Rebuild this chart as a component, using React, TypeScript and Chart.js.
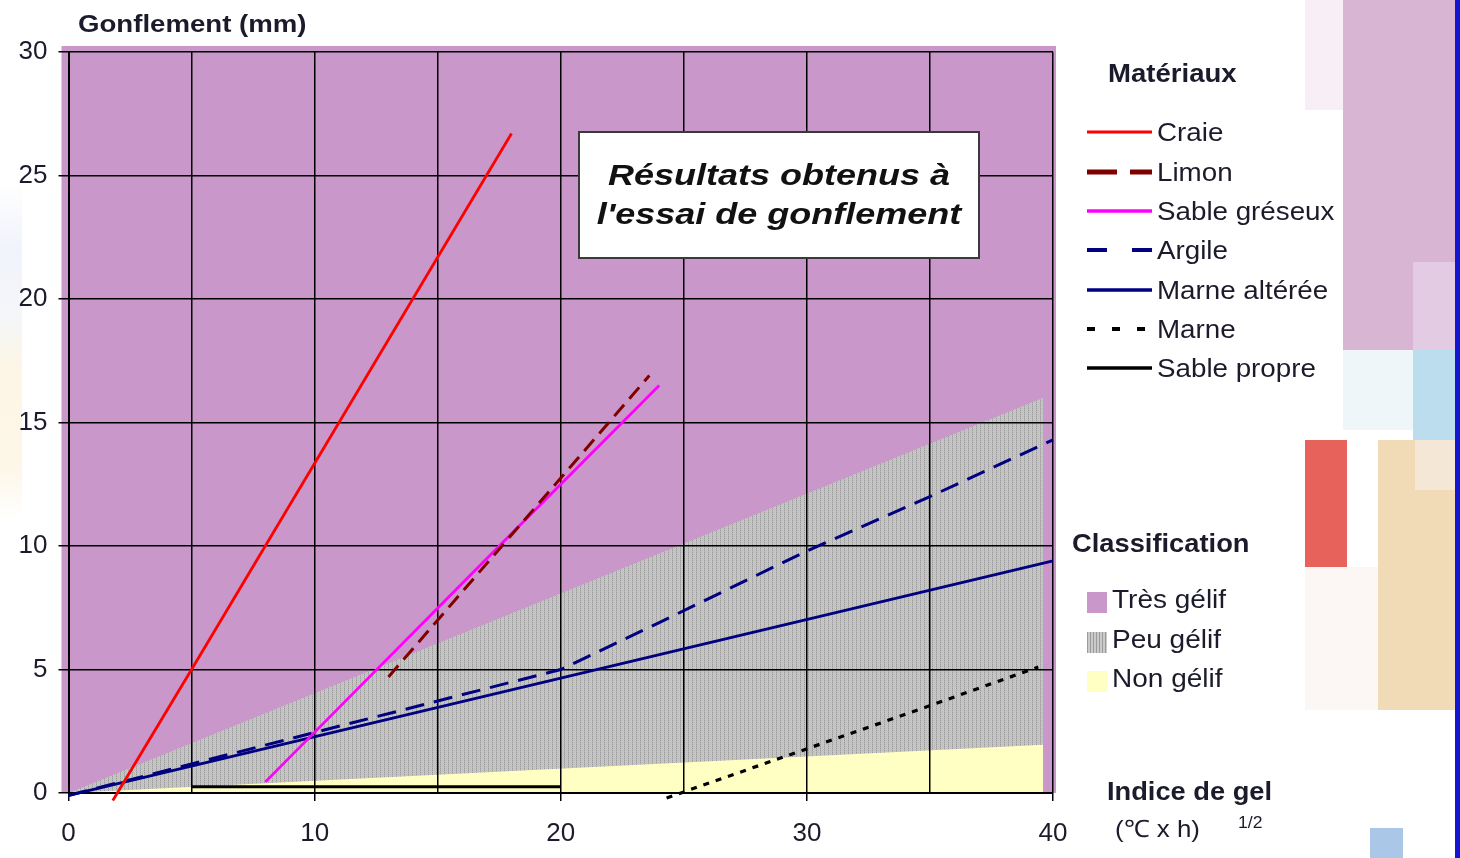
import React, { useEffect, useRef } from 'react';
import { Chart, registerables } from 'chart.js';

// ---------- data ----------
const xTickValues = [0, 10, 20, 30, 40];
const yTickValues = [0, 5, 10, 15, 20, 25, 30];

const craieX = [1.8, 5, 18];
const craieY = [-0.3, 5, 26.7];
const limonX = [13, 20, 23.6];
const limonY = [4.7, 12.75, 16.9];
const sableGreseuxX = [8, 17.5, 24];
const sableGreseuxY = [0.45, 10, 16.5];
const argileX = [0, 10, 20, 24, 30, 35, 40];
const argileY = [-0.1, 2.45, 5, 6.9, 9.8, 12, 14.3];
const marneAltereeX = [0, 40];
const marneAltereeY = [-0.1, 9.4];
const marneX = [24.3, 34.9, 39.4];
const marneY = [-0.2, 3.5, 5.1];
const sablePropreX = [5, 20];
const sablePropreY = [0.25, 0.25];

const peuGelifX = [0, 39.6];
const peuGelifY = [0, 16];
const nonGelifX = [0, 39.6];
const nonGelifY = [0, 1.95];

const materialNames = ['Craie', 'Limon', 'Sable gréseux', 'Argile', 'Marne altérée', 'Marne', 'Sable propre'];
const materialX = [craieX, limonX, sableGreseuxX, argileX, marneAltereeX, marneX, sablePropreX];
const materialY = [craieY, limonY, sableGreseuxY, argileY, marneAltereeY, marneY, sablePropreY];
const materialColors = ['#FF0000', '#800000', '#FF00FF', '#000080', '#000080', '#000000', '#000000'];
const materialDashes = [[], [15, 8], [], [19, 10], [], [6, 7], []];
const materialWidths = [2.8, 3, 2.8, 3, 2.8, 3.2, 3];
const legendDashes = [[], [30, 13], [], [20, 25], [], [8, 17], []];
const legendWidths = [3, 5, 3.5, 4, 3.5, 4, 3.5];

const classNames = ['Très gélif', 'Peu gélif', 'Non gélif'];
const TRES_GELIF_COLOR = '#C997C9';
const NON_GELIF_COLOR = '#FFFFC4';

// ---------- plugin: plot background (very frost-susceptible zone) ----------
const plotBackground = {
  id: 'plotBackground',
  beforeDraw(chart: any) {
    const { ctx, chartArea } = chart;
    if (!chartArea) return;
    ctx.save();
    ctx.fillStyle = TRES_GELIF_COLOR;
    ctx.fillRect(chartArea.left - 7, chartArea.top - 6, chartArea.right - chartArea.left + 10, chartArea.bottom - chartArea.top + 6);
    ctx.restore();
  },
};
Chart.register(plotBackground);
Chart.register(...registerables);

const FONT = '"Liberation Sans", Arial, sans-serif';
const TEXT = '#1b1b2b';

function makeGreyPattern(): CanvasPattern | string {
  const c = document.createElement('canvas');
  c.width = 4;
  c.height = 2;
  const g = c.getContext('2d');
  if (!g) return '#BEBEBE';
  const cols = [
    ['#999999', '#B6B6B6'],
    ['#CACACA', '#C2C2C2'],
    ['#BEBEBE', '#C6C6C6'],
    ['#CACACA', '#C2C2C2'],
  ];
  for (let x = 0; x < 4; x++) {
    for (let y = 0; y < 2; y++) {
      g.fillStyle = cols[x][y];
      g.fillRect(x, y, 1, 1);
    }
  }
  const p = g.createPattern(c, 'repeat');
  return p || '#BEBEBE';
}

function toPoints(xs: number[], ys: number[]) {
  return xs.map((x, i) => ({ x, y: ys[i] }));
}

type TxtProps = { x: number; baseline: number; size: number; bold?: boolean; italic?: boolean; scale?: number; children: React.ReactNode };
function Txt({ x, baseline, size, bold, italic, scale = 1, children }: TxtProps) {
  return (
    <div
      style={{
        position: 'absolute',
        left: x,
        top: baseline - 0.847 * size,
        fontFamily: FONT,
        fontSize: size,
        lineHeight: `${size}px`,
        fontWeight: bold ? 'bold' : 'normal',
        fontStyle: italic ? 'italic' : 'normal',
        color: TEXT,
        whiteSpace: 'nowrap',
        transform: `scaleX(${scale})`,
        transformOrigin: 'left center',
      }}
    >
      {children}
    </div>
  );
}

function Block({ l, t, r, b, c }: { l: number; t: number; r: number; b: number; c: string }) {
  return <div style={{ position: 'absolute', left: l, top: t, width: r - l, height: b - t, background: c }} />;
}

export default function App() {
  const ref = useRef<HTMLCanvasElement | null>(null);

  useEffect(() => {
    const canvas = ref.current;
    if (!canvas) return;
    const grey = makeGreyPattern();

    const lineSets = materialNames.map((name, i) => ({
      label: name,
      data: toPoints(materialX[i], materialY[i]),
      borderColor: materialColors[i],
      backgroundColor: materialColors[i],
      borderWidth: materialWidths[i],
      borderDash: materialDashes[i],
      borderCapStyle: 'butt' as const,
      pointRadius: 0,
      tension: 0,
      fill: false,
      clip: 10,
    }));

    const zoneSets = [
      {
        label: classNames[2],
        data: toPoints(nonGelifX, nonGelifY),
        borderColor: 'rgba(0,0,0,0)',
        borderWidth: 0,
        backgroundColor: NON_GELIF_COLOR,
        pointRadius: 0,
        fill: 'origin',
      },
      {
        label: classNames[1],
        data: toPoints(peuGelifX, peuGelifY),
        borderColor: 'rgba(0,0,0,0)',
        borderWidth: 0,
        backgroundColor: grey,
        pointRadius: 0,
        fill: 'origin',
      },
    ];

    const tickFont = { family: FONT, size: 26 };

    const chart = new Chart(canvas, {
      type: 'line',
      data: { datasets: [...lineSets, ...zoneSets] as any },
      options: {
        animation: false,
        responsive: false,
        devicePixelRatio: 1,
        layout: { padding: { left: 0, top: 52, right: 407, bottom: 0 } },
        plugins: {
          legend: { display: false },
          tooltip: { enabled: false },
          filler: { drawTime: 'beforeDraw' },
        } as any,
        scales: {
          x: {
            type: 'linear',
            min: 0,
            max: 40,
            afterFit: (s: any) => {
              s.height = 65;
            },
            ticks: {
              stepSize: 5,
              autoSkip: false,
              maxRotation: 0,
              padding: 17,
              color: TEXT,
              font: tickFont,
              callback: (v: any) => (xTickValues.includes(Number(v)) ? String(v) : ''),
            },
            grid: {
              color: '#000',
              lineWidth: 1.5,
              tickLength: 8,
              tickWidth: 1.5,
              tickColor: (ctx: any) => (ctx.tick && xTickValues.includes(ctx.tick.value) ? '#000' : 'rgba(0,0,0,0)'),
            },
            border: { color: '#000', width: 2 },
          },
          y: {
            type: 'linear',
            min: 0,
            max: 30,
            afterFit: (s: any) => {
              s.width = 68.5;
            },
            ticks: {
              stepSize: 5,
              padding: 11,
              color: TEXT,
              font: tickFont,
              callback: (v: any) => (yTickValues.includes(Number(v)) ? String(v) : ''),
            },
            grid: { color: '#000', lineWidth: 1.5, tickLength: 10, tickWidth: 1.5, tickColor: '#000' },
            border: { color: '#000', width: 2 },
          },
        },
      } as any,
    });
    return () => chart.destroy();
  }, []);

  const rowCenters = [132, 172, 211, 250, 290, 329, 368];
  const swatchTops = [592, 632, 671];
  const classBaselines = [608, 648, 687];
  const greySwatch = 'repeating-linear-gradient(90deg, #9C9C9C 0px, #9C9C9C 1px, #CACACA 1px, #CACACA 3px)';
  const swatchBg = [TRES_GELIF_COLOR, greySwatch, NON_GELIF_COLOR];

  return (
    <div style={{ position: 'absolute', left: 0, top: 0, width: 1460, height: 858, overflow: 'hidden', background: '#FFFFFF' }}>
      {/* decorative background */}
      <div style={{ position: 'absolute', left: 0, top: 180, width: 22, height: 340, opacity: 0.6, background: 'linear-gradient(180deg, rgba(230,234,250,0) 0%, #E8ECF9 20%, #EEF0F6 40%, #FCF0D6 55%, #FDF2DA 85%, rgba(250,250,250,0) 100%)' }} />
      <Block l={1305} t={0} r={1343} b={110} c="#F8EEF6" />
      <Block l={1343} t={0} r={1455} b={350} c="#D8B5D3" />
      <Block l={1413} t={262} r={1455} b={350} c="#E3CCE3" />
      <Block l={1343} t={350} r={1413} b={430} c="#EFF6FA" />
      <Block l={1413} t={350} r={1455} b={440} c="#BCDDEE" />
      <Block l={1305} t={440} r={1347} b={567} c="#E6625A" />
      <Block l={1378} t={440} r={1455} b={710} c="#F1DBB6" />
      <Block l={1415} t={440} r={1455} b={490} c="#F4E7D5" />
      <Block l={1305} t={567} r={1378} b={710} c="#FCF7F4" />
      <Block l={1370} t={828} r={1403} b={858} c="#AAC7E8" />
      <Block l={1455} t={0} r={1460} b={858} c="#1414D2" />

      <canvas ref={ref} width={1460} height={858} style={{ position: 'absolute', left: 0, top: 0, width: 1460, height: 858 }} />

      {/* axis titles */}
      <Txt x={78} baseline={32} size={24} bold scale={1.15}>Gonflement (mm)</Txt>
      <Txt x={1107} baseline={800} size={25} bold scale={1.09}>Indice de gel</Txt>
      <Txt x={1115} baseline={837} size={24} scale={1.08}>(℃ x h)</Txt>
      <Txt x={1238} baseline={829} size={16} scale={1.1}>1/2</Txt>

      {/* title box */}
      <div
        style={{
          position: 'absolute',
          left: 578,
          top: 131,
          width: 402,
          height: 128,
          boxSizing: 'border-box',
          border: '2px solid #3a3a3a',
          background: '#FFFFFF',
        }}
      >
        {['Résultats obtenus à', "l'essai de gonflement"].map((line, i) => (
          <div
            key={i}
            style={{
              position: 'absolute',
              left: 0,
              width: '100%',
              top: 185 + i * 39 - 0.847 * 30 - 133,
              textAlign: 'center',
              fontFamily: FONT,
              fontSize: 30,
              lineHeight: '30px',
              fontWeight: 'bold',
              fontStyle: 'italic',
              color: '#111',
              whiteSpace: 'nowrap',
              transform: 'scaleX(1.2)',
              transformOrigin: 'center center',
            }}
          >
            {line}
          </div>
        ))}
      </div>

      {/* materials legend */}
      <Txt x={1108} baseline={82} size={26} bold scale={1.06}>Matériaux</Txt>
      {materialNames.map((name, i) => (
        <React.Fragment key={name}>
          <svg width={68} height={10} style={{ position: 'absolute', left: 1087, top: rowCenters[i] - 5 }}>
            <line
              x1={0}
              y1={5}
              x2={65}
              y2={5}
              stroke={materialColors[i]}
              strokeWidth={legendWidths[i]}
              strokeDasharray={legendDashes[i].length ? legendDashes[i].join(' ') : undefined}
            />
          </svg>
          <Txt x={1157} baseline={rowCenters[i] + 9} size={25} scale={1.11}>{name}</Txt>
        </React.Fragment>
      ))}

      {/* classification legend */}
      <Txt x={1072} baseline={552} size={26} bold scale={1.05}>Classification</Txt>
      {classNames.map((name, i) => (
        <React.Fragment key={name}>
          <div style={{ position: 'absolute', left: 1087, top: swatchTops[i], width: 20, height: 21, background: swatchBg[i] }} />
          <Txt x={1112} baseline={classBaselines[i]} size={25} scale={1.12}>{name}</Txt>
        </React.Fragment>
      ))}
    </div>
  );
}
